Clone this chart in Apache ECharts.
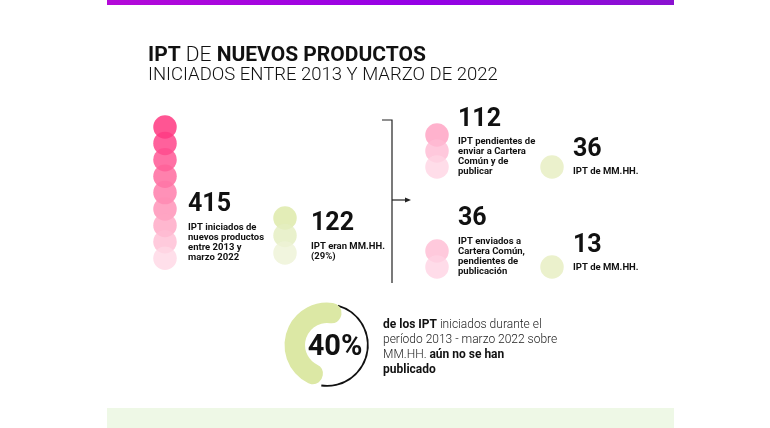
<!DOCTYPE html>
<html><head><meta charset="utf-8">
<script src="https://cdn.jsdelivr.net/npm/echarts@6/dist/echarts.min.js"></script>
<style>html,body{margin:0;padding:0;background:#fff}#c{width:770px;height:428px}</style>
</head><body><div id="c"></div>
<script>
// ---- data ----
const groupNames = ['iniciados', 'mmhh', 'pendientes', 'pendientesMMHH', 'enviados', 'enviadosMMHH'];
const groupValues = [415, 122, 112, 36, 36, 13];
const groupCircles = [9, 3, 3, 1, 2, 1];
const groupLabels = [
  'IPT iniciados de\nnuevos productos\nentre 2013 y\nmarzo 2022',
  'IPT eran MM.HH.\n(29%)',
  'IPT pendientes de\nenviar a Cartera\nComún y de\npublicar',
  'IPT de MM.HH.',
  'IPT enviados a\nCartera Común,\npendientes de\npublicación',
  'IPT de MM.HH.'
];
const donutPercent = 40;
const donutArcShares = [55, 45];   // green arc vs black arc as drawn
const titleLine1 = ['IPT', ' DE ', 'NUEVOS PRODUCTOS'];
const titleLine2 = 'INICIADOS ENTRE 2013 Y MARZO DE 2022';

// ---- layout & style ----
const FONT = 'Roboto';
const layout = [
  {cx:165, y0:127, sp:16.4, tx:188, ny:205,   ly:228, palette:['#ff2a78','#ff3a83','#ff4d8e','#ff6199','#ff76a6','#ff8db4','#ffa5c3','#ffbdd3','#ffd7e5']},
  {cx:285, y0:218, sp:17.5, tx:311, ny:223.5, ly:247, palette:['#dce8a5','#e4eebf','#edf3d6']},
  {cx:437, y0:135, sp:16,   tx:458, ny:119.5, ly:142, palette:['#ff9fc0','#ffbad3','#ffd5e4']},
  {cx:552, y0:167, sp:16,   tx:573, ny:149.5, ly:172, palette:['#e6eebf']},
  {cx:437, y0:251, sp:16,   tx:458, ny:218.5, ly:242, palette:['#ffbcd3','#ffd3e3']},
  {cx:552, y0:267, sp:16,   tx:573, ny:245.5, ly:268, palette:['#e6eebf']}
];
const SYM = 23.5;

const grids = [], xAxes = [], yAxes = [], series = [], graphics = [];
groupNames.forEach((name, g) => {
  const L = layout[g], n = groupCircles[g];
  grids.push({left: L.cx - 10, width: 20, top: L.y0 - L.sp / 2, height: n * L.sp, containLabel: false});
  xAxes.push({type: 'value', gridIndex: g, min: -1, max: 1, show: false});
  yAxes.push({type: 'value', gridIndex: g, min: -0.5, max: n - 0.5, inverse: true, show: false});
  const data = [];
  for (let i = 0; i < n; i++) data.push({value: [0, i], itemStyle: {color: L.palette[i]}});
  series.push({type: 'scatter', name, xAxisIndex: g, yAxisIndex: g, symbol: 'circle', symbolSize: SYM,
    data, silent: true, animation: false});
  graphics.push({type: 'text', style: {text: String(groupValues[g]), x: L.tx, y: L.ny,
    font: 'bold 25px ' + FONT, fill: '#111', verticalAlign: 'middle'}});
  graphics.push({type: 'text', style: {text: groupLabels[g], x: L.tx, y: L.ly - 5,
    font: 'bold 9.5px ' + FONT, fill: '#111', lineHeight: 10, verticalAlign: 'top'}});
});

// donut
const DC = [327, 345];
series.push({type: 'pie', center: DC, radius: [22, 42.5], startAngle: 262, clockwise: true,
  silent: true, animation: false, label: {show: false}, labelLine: {show: false},
  itemStyle: {borderWidth: 0, borderRadius: 10},
  data: [{value: donutArcShares[0], itemStyle: {color: '#dce8a5'}},
         {value: donutArcShares[1], itemStyle: {color: 'rgba(0,0,0,0)'}}]});
series.push({type: 'pie', center: DC, radius: [40, 41.8], startAngle: 262, clockwise: true, z: 1,
  silent: true, animation: false, label: {show: false}, labelLine: {show: false},
  itemStyle: {borderWidth: 0},
  data: [{value: donutArcShares[0] - 3, itemStyle: {color: 'rgba(0,0,0,0)'}},
         {value: donutArcShares[1] + 3, itemStyle: {color: '#111'}}]});

// decorative
graphics.push({type: 'rect', shape: {x: 107, y: 0, width: 567, height: 5}, z: 10,
  style: {fill: new echarts.graphic.LinearGradient(0, 0, 1, 0, [
    {offset: 0, color: '#b40ad8'}, {offset: 0.55, color: '#9500e6'}, {offset: 1, color: '#8a12d0'}])}});
graphics.push({type: 'rect', shape: {x: 107, y: 408, width: 567, height: 20}, style: {fill: '#eef8e6'}});
graphics.push({type: 'text', style: {x: 148, y: 55.5, verticalAlign: 'middle',
  text: '{b|' + titleLine1[0] + '}{l|' + titleLine1[1] + '}{b|' + titleLine1[2] + '}',
  rich: {b: {font: 'bold 21px ' + FONT, fill: '#111'}, l: {font: '300 21px ' + FONT, fill: '#111'}}}});
graphics.push({type: 'text', style: {x: 148, y: 75.5, verticalAlign: 'middle', text: titleLine2,
  font: '300 18.5px ' + FONT, fill: '#111'}});
// bracket
const LS = {stroke: '#222', lineWidth: 1.2};
graphics.push({type: 'polyline', shape: {points: [[382, 120], [392, 120], [392, 283]]}, style: Object.assign({fill: null}, LS)});
graphics.push({type: 'line', shape: {x1: 392, y1: 200, x2: 408, y2: 200}, style: LS});
graphics.push({type: 'polygon', shape: {points: [[405, 197.5], [411, 200], [405, 202.5]]}, style: {fill: '#222'}});
// donut center text
graphics.push({type: 'text', style: {text: donutPercent + '%', x: 335, y: 348, align: 'center', verticalAlign: 'middle',
  font: 'bold 29px ' + FONT, fill: '#111'}});
graphics.push({type: 'text', style: {x: 383, y: 317.5, verticalAlign: 'top',
  text: '{b|de los IPT}{l| iniciados durante el}\n{l|período 2013 - marzo 2022 sobre}\n{l|MM.HH. }{b|aún no se han}\n{b|publicado}',
  rich: {b: {font: 'bold 12px ' + FONT, fill: '#111', lineHeight: 15}, l: {font: '300 12px ' + FONT, fill: '#222', lineHeight: 15}}}});

const chart = echarts.init(document.getElementById('c'), null, {renderer: 'canvas'});
chart.setOption({backgroundColor: '#fff', animation: false, grid: grids, xAxis: xAxes, yAxis: yAxes, series, graphic: graphics});
</script></body></html>
